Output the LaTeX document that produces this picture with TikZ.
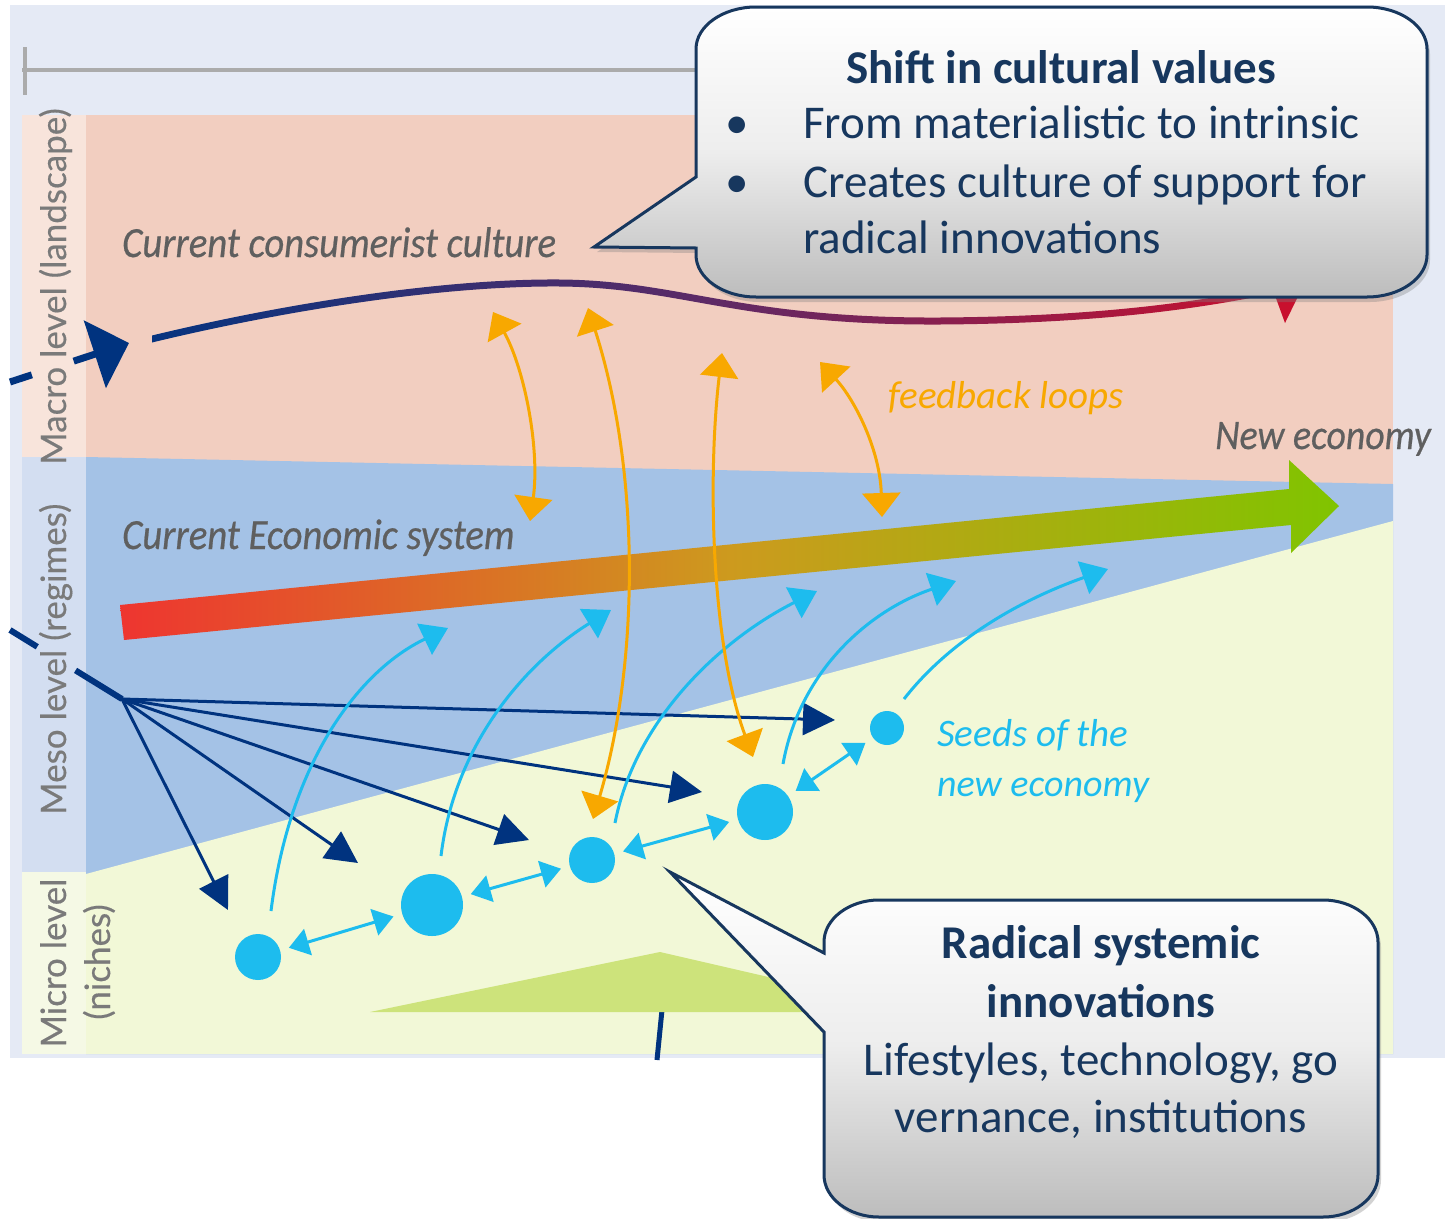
\documentclass[tikz,border=0pt]{standalone}
\usepackage{fontspec}
\setmainfont{Carlito}
\newfontfamily\sidefont[FakeBold=0.4]{Lato}
\newfontfamily\bandfont[FakeBold=0.5, FakeStretch=0.9]{Carlito}
\usetikzlibrary{arrows.meta,shadows}

\definecolor{bgLav}{HTML}{E5EAF5}
\definecolor{macroBand}{HTML}{F2CEC0}
\definecolor{macroStrip}{HTML}{F8E4DB}
\definecolor{mesoBand}{HTML}{A4C2E6}
\definecolor{mesoStrip}{HTML}{D3DEF1}
\definecolor{microBand}{HTML}{F2F8D7}
\definecolor{microStrip}{HTML}{F5F9E5}
\definecolor{hillGreen}{HTML}{CDE37B}
\definecolor{navyArr}{HTML}{00337F}
\definecolor{seedCyan}{HTML}{1DBCEE}
\definecolor{loopOrange}{HTML}{F8A800}
\definecolor{labelGray}{HTML}{5F5F5F}
\definecolor{sideGray}{HTML}{7A7A7A}
\definecolor{axisGray}{HTML}{ABABAB}
\definecolor{calloutInk}{HTML}{17375E}
\definecolor{shaftRed}{HTML}{EE3530}
\definecolor{shaftGold}{HTML}{CD9A1E}
\definecolor{shaftGreen}{HTML}{80C400}
\definecolor{curveNavy}{HTML}{06347F}
\definecolor{curvePurple}{HTML}{5E2A66}
\definecolor{curveRed}{HTML}{C8102E}

\tikzset{
  fanarrow/.style={navyArr, line width=3pt, -{Triangle[length=32pt,width=32pt]}},
  seedlink/.style={seedCyan, line width=3pt, shorten <=9pt, shorten >=9pt,
    {Triangle[length=20pt,width=27pt]}-{Triangle[length=20pt,width=27pt]}},
  seedrise/.style={seedCyan, line width=3pt, -{Triangle[length=26pt,width=34pt]}},
  loop/.style={loopOrange, line width=3pt,
    {Triangle[length=24pt,width=38pt]}-{Triangle[length=24pt,width=38pt]}},
  seed/.style={circle, fill=seedCyan, inner sep=0pt},
  sidelabel/.style={font=\sidefont\fontsize{35}{40}\selectfont, text=sideGray, rotate=90, inner sep=0pt},
  bandlabel/.style={font=\bandfont\itshape\fontsize{43}{48}\selectfont, text=labelGray, inner sep=0pt, anchor=base west},
  lightlabel/.style={font=\itshape\fontsize{39}{44}\selectfont, inner sep=0pt, anchor=base west},
  callout/.style={draw=calloutInk, line width=3pt, top color=white, bottom color=black!26, middle color=black!7,
    drop shadow={shadow xshift=3pt, shadow yshift=-5pt, opacity=0.35}},
  callouttext/.style={font=\fontsize{47}{57}\selectfont, text=calloutInk, inner sep=0pt},
}

\begin{document}
\begin{tikzpicture}[x=1pt,y=-1pt]
\useasboundingbox (0,0) rectangle (1445,1218);
\fill[white] (0,0) rectangle (1445,1218);
\fill[bgLav] (10,5) rectangle (1445,1058);

% time axis
\draw[axisGray, line width=3.5pt] (22,70) -- (700,70);
\draw[axisGray, line width=3.5pt] (25,47) -- (25,95);

% the three levels
\fill[macroBand] (86,115) rectangle (1393,500);
\fill[mesoBand] (86,457) -- (1393,484) -- (1393,1054) -- (86,1054) -- cycle;
\fill[microBand] (86,874) -- (1393,521) -- (1393,1054) -- (86,1054) -- cycle;
\fill[macroStrip] (22,115) rectangle (86,457);
\fill[mesoStrip] (22,457) rectangle (86,872);
\fill[microStrip] (22,872) rectangle (86,1054);

\node[sidelabel, anchor=base west] (lmacro) at (66,465) {Macro level (landscape)};
\node[sidelabel, anchor=base west] (lmeso) at (66,815) {Meso level (regimes)};
\node[sidelabel, anchor=base] (lmicro) at (66,963) {Micro level};
\node[sidelabel, anchor=base] (lniche) at (110,962) {(niches)};

% niche hill with its stem
\draw[navyArr, line width=5pt] (662,1010) -- (657,1060);
\fill[hillGreen] (370,1012) -- (660,952) -- (920,1012) -- cycle;

% landscape trend line
\shade[left color=curveNavy, right color=curveRed, middle color=curvePurple]
  (152,335.5) .. controls (280,304.5) and (440,278.5) .. (560,279.5)
  .. controls (680,280.5) and (740,318.5) .. (940,317.5)
  .. controls (1100,316.5) and (1200,301.5) .. (1273,286.5)
  -- (1273,293.5) .. controls (1200,308.5) and (1100,323.5) .. (940,324.5)
  .. controls (740,325.5) and (680,287.5) .. (560,286.5)
  .. controls (440,285.5) and (280,311.5) .. (152,342.5) -- cycle;
\fill[curveRed] (1261,257) -- (1307,278) -- (1285,323) -- cycle;

\coordinate (mstart) at (10,382);
\coordinate (mtip) at (129,343);
\draw[navyArr, line width=7pt, dash pattern=on 23pt off 44pt on 100pt,
  -{Triangle[length=36pt,width=70pt]}] (mstart) -- (mtip);

% regime arrow
\shade[left color=shaftRed, right color=shaftGreen, middle color=shaftGold]
  (120,605) -- (1289,489) -- (1289,460) -- (1339,506) -- (1291,553) -- (1291,525) -- (124,640) -- cycle;

% level texts
\node[bandlabel] (tcons) at (122,257) {Current consumerist culture};
\node[bandlabel] (tecon) at (122,549) {Current Economic system};
\node[bandlabel, font=\bandfont\itshape\fontsize{42}{48}\selectfont] (tnew) at (1215,449) {New economy};
\node[lightlabel, text=loopOrange] (tloop) at (888,408) {feedback loops};
\node[lightlabel, text=seedCyan] (tseed1) at (937,746) {Seeds of the};
\node[lightlabel, text=seedCyan, font=\itshape\fontsize{38}{44}\selectfont] (tseed2) at (937,796) {new economy};

% regime pressure fanning into the niches
\coordinate (hubstart) at (10,630);
\coordinate (hub) at (122,699);
\draw[navyArr, line width=6pt, dash pattern=on 32pt off 45pt on 80pt] (hubstart) -- (hub);
\coordinate (f1) at (228,910);
\coordinate (f2) at (358,863);
\coordinate (f3) at (529,840);
\coordinate (f4) at (702,792);
\coordinate (f5) at (835,720);
\foreach \t in {f1,f2,f3,f4,f5} \draw[fanarrow] (hub) -- (\t);

% niche seeds
\node[seed, minimum size=46pt] (c1) at (258,957) {};
\node[seed, minimum size=62pt] (c2) at (432,905) {};
\node[seed, minimum size=46pt] (c3) at (592,860) {};
\node[seed, minimum size=56pt] (c4) at (765,812) {};
\node[seed, minimum size=34pt] (c5) at (887,728) {};

\draw[seedlink] (c1) -- (c2);
\draw[seedlink] (c2) -- (c3);
\draw[seedlink] (c3) -- (c4);
\draw[seedlink] (c4) -- (c5);

% seeds rising towards the regime
\coordinate (r1s) at (271,911); \coordinate (r1e) at (448,628);
\coordinate (r2s) at (441,856); \coordinate (r2e) at (611,610);
\coordinate (r3s) at (615,823); \coordinate (r3e) at (817,591);
\coordinate (r4s) at (783,764); \coordinate (r4e) at (956,581);
\coordinate (r5s) at (904,699); \coordinate (r5e) at (1108,569);
\draw[seedrise] (r1s) .. controls (290,760) and (360,670) .. (r1e);
\draw[seedrise] (r2s) .. controls (455,740) and (530,660) .. (r2e);
\draw[seedrise] (r3s) .. controls (635,720) and (720,640) .. (r3e);
\draw[seedrise] (r4s) .. controls (800,670) and (870,610) .. (r4e);
\draw[seedrise] (r5s) .. controls (950,640) and (1020,600) .. (r5e);

% feedback loops
\coordinate (oa1) at (493,312); \coordinate (oa2) at (530,521);
\coordinate (ob1) at (588,308); \coordinate (ob2) at (593,819);
\coordinate (oc1) at (722,353); \coordinate (oc2) at (753,757);
\coordinate (od1) at (820,362); \coordinate (od2) at (882,517);
\draw[loop] (oa1) .. controls (525,370) and (540,450) .. (oa2);
\draw[loop] (ob1) .. controls (640,470) and (640,660) .. (ob2);
\draw[loop] (oc1) .. controls (708,470) and (710,640) .. (oc2);
\draw[loop] (od1) .. controls (855,400) and (880,450) .. (od2);

% callout: cultural values
\draw[callout] (756,7) -- (1367,7) .. controls (1400,7) and (1427,26) .. (1427,49)
  -- (1427,255) .. controls (1427,278) and (1400,297) .. (1367,297)
  -- (756,297) .. controls (723,297) and (696,278) .. (696,255)
  -- (696,248) -- (594,247) -- (696,177)
  -- (696,49) .. controls (696,26) and (723,7) .. (756,7) -- cycle;
\node[callouttext, anchor=base] (k0) at (1061,83) {\bfseries Shift in cultural values};
\node[callouttext, anchor=base] (kb1) at (737,138) {•};
\node[callouttext, anchor=base west] (k1) at (803,138) {From materialistic to intrinsic};
\node[callouttext, anchor=base] (kb2) at (737,197) {•};
\node[callouttext, anchor=base west] (k2) at (803,197) {Creates culture of support for};
\node[callouttext, anchor=base west] (k3) at (803,253) {radical innovations};

% callout: niche innovations
\draw[callout] (879,900) -- (1323,900) .. controls (1353,900) and (1378,919) .. (1378,942)
  -- (1378,1175) .. controls (1378,1198) and (1353,1217) .. (1323,1217)
  -- (879,1217) .. controls (849,1217) and (824,1198) .. (824,1175)
  -- (824,1032) -- (670,872) -- (824,953)
  -- (824,942) .. controls (824,919) and (849,900) .. (879,900) -- cycle;
\node[callouttext, anchor=base] (n0) at (1101,958) {\bfseries Radical systemic};
\node[callouttext, anchor=base] (n1) at (1101,1017) {\bfseries innovations};
\node[callouttext, anchor=base] (n2) at (1101,1075) {Lifestyles, technology, go};
\node[callouttext, anchor=base] (n3) at (1101,1132) {vernance, institutions};
\end{tikzpicture}
\end{document}
